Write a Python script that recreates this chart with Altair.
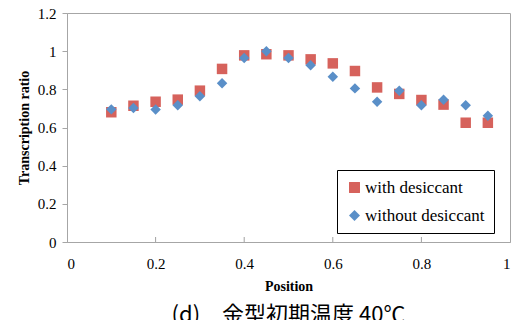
import altair as alt
import pandas as pd

positions = [0.1, 0.15, 0.2, 0.25, 0.3, 0.35, 0.4, 0.45, 0.5, 0.55, 0.6, 0.65, 0.7, 0.75, 0.8, 0.85, 0.9, 0.95]
with_desiccant = [0.68, 0.714, 0.735, 0.746, 0.793, 0.907, 0.978, 0.984, 0.978, 0.957, 0.936, 0.896, 0.81, 0.776, 0.744, 0.72, 0.625, 0.625]
without_desiccant = [0.695, 0.702, 0.694, 0.716, 0.764, 0.832, 0.964, 1.0, 0.964, 0.926, 0.866, 0.805, 0.735, 0.793, 0.716, 0.746, 0.716, 0.662]
series_names = ["with desiccant", "without desiccant"]
x_inner_ticks = [0.2, 0.4, 0.6, 0.8]
caption = "(d)\u3000金型初期温度 40℃"

rows = []
for p, v in zip(positions, with_desiccant):
    rows.append({"Position": p, "Ratio": v, "Series": series_names[0]})
for p, v in zip(positions, without_desiccant):
    rows.append({"Position": p, "Ratio": v, "Series": series_names[1]})
df = pd.DataFrame(rows)

W, H = 443, 229
serif = "serif"

x_scale = alt.Scale(domain=[0, 1], nice=False)
y_scale = alt.Scale(domain=[0, 1.2], nice=False)

legend_props = dict(title=None, orient="none", legendX=270, legendY=157,
                    strokeColor="black", fillColor="white", padding=9,
                    labelFont=serif, labelFontSize=17, labelColor="black",
                    labelFontWeight="normal",
                    rowPadding=10, symbolSize=120, labelOffset=2,
                    symbolStrokeWidth=0)

points = alt.Chart(df).mark_point(filled=True, opacity=1, size=110, strokeWidth=1).encode(
    x=alt.X("Position:Q", scale=x_scale,
            axis=alt.Axis(values=[0, 0.2, 0.4, 0.6, 0.8, 1], title="Position", ticks=False, format="~g",
                          labelFont=serif, titleFont=serif,
                          labelPadding=14, titlePadding=8, grid=False)),
    y=alt.Y("Ratio:Q", scale=y_scale,
            axis=alt.Axis(values=[0, 0.2, 0.4, 0.6, 0.8, 1, 1.2], title="Transcription ratio", format="~g",
                          labelFont=serif, titleFont=serif,
                          tickSize=5, labelPadding=6, titlePadding=6, grid=False)),
    color=alt.Color("Series:N",
                    scale=alt.Scale(domain=series_names, range=["#d6625c", "#5a8fc8"]),
                    legend=alt.Legend(**legend_props)),
    shape=alt.Shape("Series:N",
                    scale=alt.Scale(domain=series_names, range=["square", "diamond"]),
                    legend=alt.Legend(**legend_props)),
)

inner_ticks = alt.Chart(pd.DataFrame({"t": x_inner_ticks})).mark_rule(color="#a0a0a0", strokeWidth=1).encode(
    x=alt.X("t:Q", scale=x_scale),
    y=alt.value(H),
    y2=alt.value(H - 5),
)

chart = alt.layer(inner_ticks, points).properties(
    width=W, height=H,
    autosize=alt.AutoSizeParams(type="none"),
    padding={"left": 59, "top": 5, "right": 6, "bottom": 95},
    title=alt.TitleParams(caption, orient="bottom", anchor="middle", font="Noto Sans CJK JP",
                          fontSize=22, fontWeight="normal", color="black", offset=12),
).configure_legend(
    labelFont=serif
).configure_view(
    stroke="#a6a6a6", strokeWidth=1
).configure_axis(
    domainColor="#a6a6a6", tickColor="#a6a6a6",
    labelFont=serif, labelFontSize=15, labelColor="black",
    titleFont=serif, titleFontSize=14, titleFontWeight="bold", titleColor="black",
)

chart.save("out.html", embed_options={"renderer": "svg", "actions": False})
